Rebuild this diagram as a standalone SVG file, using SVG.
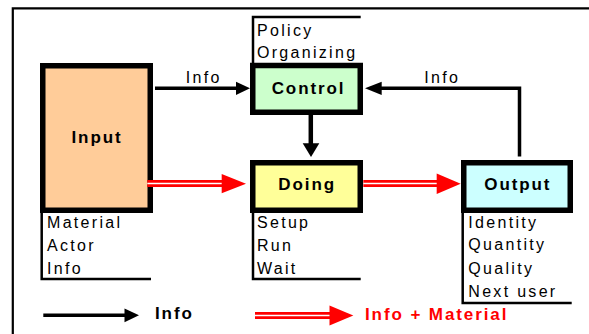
<svg xmlns="http://www.w3.org/2000/svg" width="589" height="334" viewBox="0 0 589 334">
  <defs>
    <style>
      .box { stroke: #000; stroke-width: 5.5; }
      .rule { stroke: #000; stroke-width: 2.5; fill: none; }
      .frame { stroke: #000; stroke-width: 2.2; fill: none; }
      .txt { font-family: "Liberation Sans", Arial, sans-serif; font-size: 16px; letter-spacing: 2.3px; fill: #000; }
      .lbl { font-family: "Liberation Sans", Arial, sans-serif; font-size: 17px; font-weight: bold; letter-spacing: 1.9px; fill: #000; }
      .red { fill: #ff0000; }
      .wire { stroke: #000; stroke-width: 3.5; fill: none; }
      .head { fill: #000; }
      .dbl { stroke: #ff0000; stroke-width: 7; fill: none; }
      .gap { stroke: #fff; stroke-width: 1.6; fill: none; }
      .rhead { fill: #ff0000; }
    </style>
  </defs>
  <rect width="589" height="334" fill="#fff"/>

  <!-- outer frame (top and left edges) -->
  <path class="frame" d="M12.8,334 V8.3 H589"/>

  <g id="input">
    <rect class="box" x="42.75" y="65.75" width="107.5" height="144.5" fill="#ffcc99"/>
    <text class="lbl" x="71.5" y="142.7">Input</text>
    <path class="rule" d="M41.7,212 V279 H151"/>
    <text class="txt" x="47" y="227.8">Material</text>
    <text class="txt" x="47" y="250.6">Actor</text>
    <text class="txt" x="47" y="273.5">Info</text>
  </g>

  <g id="control">
    <path class="rule" d="M253,63 V17 H360.7"/>
    <text class="txt" x="257" y="35.7">Policy</text>
    <text class="txt" x="257" y="58.2">Organizing</text>
    <rect class="box" x="252.75" y="65.5" width="107.5" height="46.75" fill="#ccffcc"/>
    <text class="lbl" x="271.7" y="94">Control</text>
  </g>

  <g id="doing">
    <rect class="box" x="252.75" y="162.75" width="107.5" height="47.5" fill="#ffff99"/>
    <text class="lbl" x="278.3" y="190">Doing</text>
    <path class="rule" d="M253,212 V279 H360.7"/>
    <text class="txt" x="257" y="227.8">Setup</text>
    <text class="txt" x="257" y="250.6">Run</text>
    <text class="txt" x="257" y="273.5">Wait</text>
  </g>

  <g id="output">
    <rect class="box" x="463.75" y="162.75" width="106.5" height="47.5" fill="#ccffff"/>
    <text class="lbl" x="484.3" y="190">Output</text>
    <path class="rule" d="M462.7,212 V303 H571.7"/>
    <text class="txt" x="468.3" y="227.5">Identity</text>
    <text class="txt" x="468.3" y="250.3">Quantity</text>
    <text class="txt" x="468.3" y="273.5">Quality</text>
    <text class="txt" x="468.3" y="296.5">Next user</text>
  </g>

  <g id="connectors">
    <!-- Input to Control (info) -->
    <path class="wire" d="M155,88.3 H237"/>
    <polygon class="head" points="236,81.7 250,88.3 236,95"/>
    <text class="txt" x="185.7" y="83.3">Info</text>

    <!-- Output back to Control (info) -->
    <path class="wire" d="M519.5,156.5 V88.3 H381"/>
    <polygon class="head" points="381.7,81.7 365,88.3 381.7,95"/>
    <text class="txt" x="424.3" y="83.3">Info</text>

    <!-- Control to Doing -->
    <path class="wire" d="M310.8,115 V144" style="stroke-width:4.5"/>
    <polygon class="head" points="302.7,143.3 319.3,143.3 311,157"/>

    <!-- Input to Doing (info + material) -->
    <path class="dbl" d="M147.3,183.5 H223"/>
    <path class="gap" d="M147.3,183.5 H223"/>
    <polygon class="rhead" points="221.7,174 246,183.7 221.7,193.3"/>

    <!-- Doing to Output (info + material) -->
    <path class="dbl" d="M363.3,183.5 H438"/>
    <path class="gap" d="M363.3,183.5 H438"/>
    <polygon class="rhead" points="436.7,173.5 460.7,183.7 436.7,194"/>
  </g>

  <g id="legend">
    <path class="wire" d="M43.3,315.3 H126"/>
    <polygon class="head" points="124.5,308.5 139,315.3 124.5,322.2"/>
    <text class="lbl" x="155" y="318.8">Info</text>

    <path class="dbl" d="M255,315.5 H331"/>
    <path class="gap" d="M255,315.5 H331"/>
    <polygon class="rhead" points="329.5,305.5 353.3,315.5 329.5,325.5"/>
    <text class="lbl red" x="365" y="319.5">Info + Material</text>
  </g>
</svg>
